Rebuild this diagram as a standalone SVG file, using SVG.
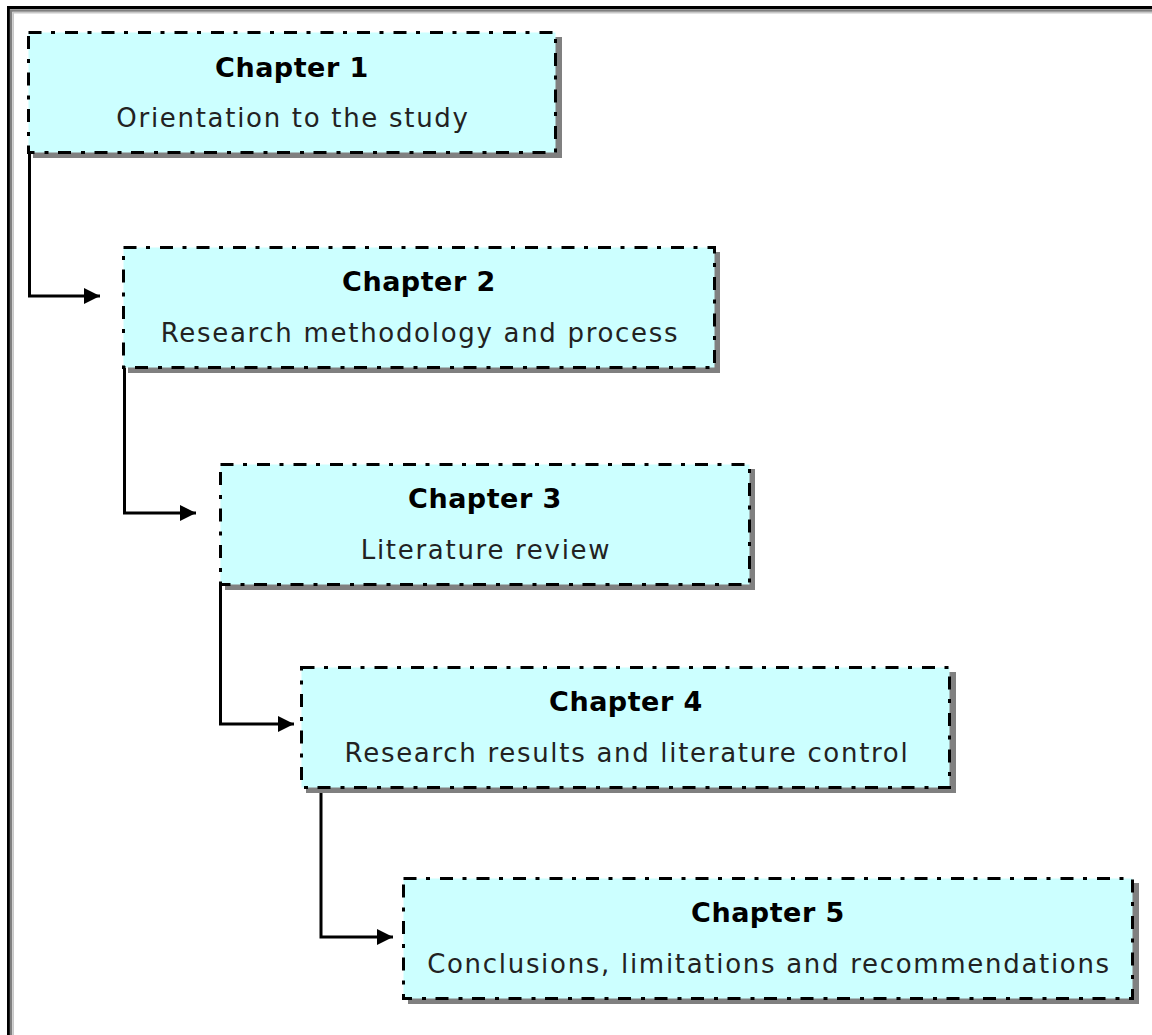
<svg xmlns="http://www.w3.org/2000/svg" width="1152" height="1035" viewBox="0 0 1152 1035">
<defs>
<style>
.shadow{fill:#808080;}
.box{fill:#ccffff;stroke:#000;stroke-width:3;stroke-dasharray:13 9.5 4 10;}
.title{font-family:"DejaVu Sans",Verdana,sans-serif;font-weight:bold;font-size:27px;letter-spacing:0.5px;fill:#000;text-anchor:middle;}
.sub{font-family:"DejaVu Sans",Verdana,sans-serif;font-size:26px;letter-spacing:1.7px;fill:#222;text-anchor:middle;}
.conn{fill:none;stroke:#000;stroke-width:3;}
</style>
<marker id="arrow" markerUnits="userSpaceOnUse" markerWidth="18" markerHeight="18" refX="16" refY="8" orient="auto">
<path d="M0,0 L16,8 L0,16 Z" fill="#000"/>
</marker>
</defs>
<rect width="1152" height="1035" fill="#fff"/>
<g id="frame">
<path d="M8.5,1035 V7.5 H1152" fill="none" stroke="#000" stroke-width="3"/>
<path d="M11,1035 V10.5 H1152" fill="none" stroke="#808080" stroke-width="2.5"/>
<path d="M13.2,1035 V12.8 H1152" fill="none" stroke="#c8c8c8" stroke-width="1.6"/>
</g>
<g id="connectors">
<path class="conn" d="M29.5,152 V296 H100" marker-end="url(#arrow)"/>
<path class="conn" d="M124.5,368 V513 H196" marker-end="url(#arrow)"/>
<path class="conn" d="M220.5,584 V724 H294" marker-end="url(#arrow)"/>
<path class="conn" d="M321,787 V937 H393" marker-end="url(#arrow)"/>
</g>
<g id="chapter1">
<rect class="shadow" x="33" y="37" width="529" height="121"/>
<rect class="box" x="28.5" y="32.5" width="527" height="120"/>
<text class="title" x="292" y="77">Chapter 1</text>
<text class="sub" x="293" y="127">Orientation to the study</text>
</g>
<g id="chapter2">
<rect class="shadow" x="128" y="252" width="592" height="121"/>
<rect class="box" x="123.5" y="247.5" width="591" height="120"/>
<text class="title" x="419" y="291">Chapter 2</text>
<text class="sub" x="420" y="342">Research methodology and process</text>
</g>
<g id="chapter3">
<rect class="shadow" x="225" y="469" width="530" height="121"/>
<rect class="box" x="220.5" y="464.5" width="529" height="120"/>
<text class="title" x="485" y="508">Chapter 3</text>
<text class="sub" x="486" y="559">Literature review</text>
</g>
<g id="chapter4">
<rect class="shadow" x="306" y="672" width="650" height="121"/>
<rect class="box" x="301.5" y="667.5" width="648" height="120"/>
<text class="title" x="626" y="711">Chapter 4</text>
<text class="sub" x="627" y="762">Research results and literature control</text>
</g>
<g id="chapter5">
<rect class="shadow" x="408" y="883" width="731" height="121"/>
<rect class="box" x="403.5" y="878.5" width="729" height="120"/>
<text class="title" x="768" y="922">Chapter 5</text>
<text class="sub" x="769" y="973">Conclusions, limitations and recommendations</text>
</g>
</svg>
